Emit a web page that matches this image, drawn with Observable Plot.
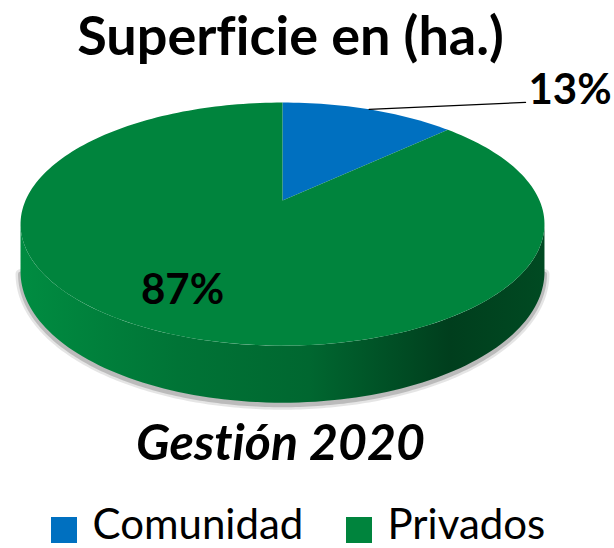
<!DOCTYPE html>
<html><head><meta charset="utf-8">
<script src="https://cdn.jsdelivr.net/npm/d3@7"></script>
<script src="https://cdn.jsdelivr.net/npm/@observablehq/plot@0.6"></script>
<style>body{margin:0;background:#fff;} #chart svg{display:block;} #chart svg text{font-variant-ligatures:none;font-feature-settings:"liga" 0,"dlig" 0;}</style>
</head><body><div id="chart"></div>
<script>
// ---- data ----
const categories = ["Comunidad", "Privados"];
const values = [13, 87];
const colors = ["#0070C0", "#00843D"];
const labels = ["13%", "87%"];
const title = "Superficie en (ha.)";
const subtitle = "Gestión 2020";

// ---- layout (perspective projection of the 3D pie) ----
const W = 614, H = 548;
const CX = 282, CY0 = -403, A = 603, B = 46, FR = 257, R = 0.194;
function project(theta, rho, bottom) {
  const z = 1 + R * rho * Math.cos(theta);
  return {x: CX + FR * rho * Math.sin(theta) / z, y: CY0 + (A + (bottom ? B : 0)) / z};
}
const FONT = "Lato, 'Open Sans', sans-serif";

const slices = d3.pie().sort(null).value(d => d.value)(
  categories.map((c, i) => ({category: c, value: values[i], color: colors[i], label: labels[i]}))
);

// top face polygons
const topPts = [];
slices.forEach(s => {
  const c = project(0, 0, false);
  topPts.push({...c, key: s.data.category, fill: s.data.color});
  const n = Math.max(2, Math.ceil((s.endAngle - s.startAngle) / (2 * Math.PI) * 240));
  for (let k = 0; k <= n; k++) {
    const t = s.startAngle + (s.endAngle - s.startAngle) * k / n;
    topPts.push({...project(t, 1, false), key: s.data.category, fill: s.data.color});
  }
  topPts.push({...c, key: s.data.category, fill: s.data.color});
});

// visible front side
const visA = Math.acos(-R), visB = 2 * Math.PI - visA;
const sidePts = [], shadowPts = [];
slices.forEach((s, i) => {
  const a0 = Math.max(s.startAngle, visA), a1 = Math.min(s.endAngle, visB);
  if (a1 <= a0) return;
  const n = Math.max(2, Math.ceil((a1 - a0) / (2 * Math.PI) * 240));
  const key = s.data.category;
  const fill = `url(#side-${i})`;
  for (let k = 0; k <= n; k++) { const t = a0 + (a1 - a0) * k / n; sidePts.push({...project(t, 1, false), key, fill}); }
  for (let k = n; k >= 0; k--) { const t = a0 + (a1 - a0) * k / n; sidePts.push({...project(t, 1, true), key, fill}); }
});
{
  const n = 200;
  for (let k = 0; k <= n; k++) { const t = visA + (visB - visA) * k / n; shadowPts.push(project(t, 1, true)); }
}

// labels
const big = slices[0], rest = slices[1];
const midBig = (big.startAngle + big.endAngle) / 2;
const leaderStart = project(midBig, 1, false);
const leader = [leaderStart, {x: 525, y: leaderStart.y - 7}];
const midRest = (rest.startAngle + rest.endAngle) / 2 + 0.06;
const restLabel = project(midRest, 0.75, false);

const legendItems = categories.map((c, i) => ({category: c, color: colors[i], x: [51, 346][i]}));
const LEG_Y = 517, LEG_S = 26;

const plot = Plot.plot({
  width: W, height: H,
  margin: 0,
  x: {domain: [0, W], range: [0, W], axis: null},
  y: {domain: [0, H], range: [0, H], axis: null},
  color: {type: "identity"},
  style: {background: "#fff", overflow: "visible"},
  marks: [
    Plot.line(shadowPts, {x: "x", y: "y", stroke: "#000", strokeOpacity: 0.10, strokeWidth: 10, dy: 2}),
    Plot.line(shadowPts, {x: "x", y: "y", stroke: "#000", strokeOpacity: 0.18, strokeWidth: 5, dy: 2}),
    Plot.line(sidePts, {x: "x", y: "y", z: "key", fill: "fill", stroke: "none", curve: "linear"}),
    Plot.line(topPts, {x: "x", y: "y", z: "key", fill: "fill", stroke: "none", curve: "linear"}),
    Plot.line(leader, {x: "x", y: "y", stroke: "#000", strokeWidth: 1.3}),
    Plot.text([big.data.label], {x: 528, y: leader[1].y + 2, text: d => d, textAnchor: "start", lineAnchor: "bottom", fontSize: 42, fontWeight: "bold", fontFamily: FONT, fill: "#000"}),
    Plot.text([rest.data.label], {x: restLabel.x, y: restLabel.y + 14, text: d => d, lineAnchor: "bottom", fontSize: 42, fontWeight: "bold", fontFamily: FONT, fill: "#000"}),
    Plot.text([title], {x: 290, y: 54, text: d => d, lineAnchor: "bottom", fontSize: 54, fontWeight: "bold", fontFamily: FONT, fill: "#000"}),
    Plot.text([subtitle], {x: 280, y: 459, text: d => d, lineAnchor: "bottom", fontSize: 50, fontWeight: "bold", fontStyle: "italic", fontFamily: FONT, fill: "#000"}),
    Plot.rect(legendItems, {x1: "x", x2: d => d.x + LEG_S, y1: LEG_Y, y2: LEG_Y + LEG_S, fill: "color"}),
    Plot.text(legendItems, {x: d => d.x + 41, y: 538, text: "category", textAnchor: "start", lineAnchor: "bottom", fontSize: 42, fontFamily: FONT, fill: "#000"})
  ]
});

// gradients for the side wall
const defs = d3.select(plot).insert("defs", ":first-child");
colors.forEach((c, i) => {
  const base = d3.color(c);
  const g = defs.append("linearGradient").attr("id", `side-${i}`).attr("x1", 0).attr("x2", 1).attr("y1", 0).attr("y2", 0);
  [[0, 1.06], [0.3, 0.88], [0.55, 0.78], [0.82, 0.47], [1, 0.56]].forEach(([o, k]) => {
    const col = d3.rgb(base.r * k, base.g * k, base.b * k);
    g.append("stop").attr("offset", o).attr("stop-color", col.formatHex());
  });
});
document.getElementById("chart").appendChild(plot);
</script>
</body></html>
